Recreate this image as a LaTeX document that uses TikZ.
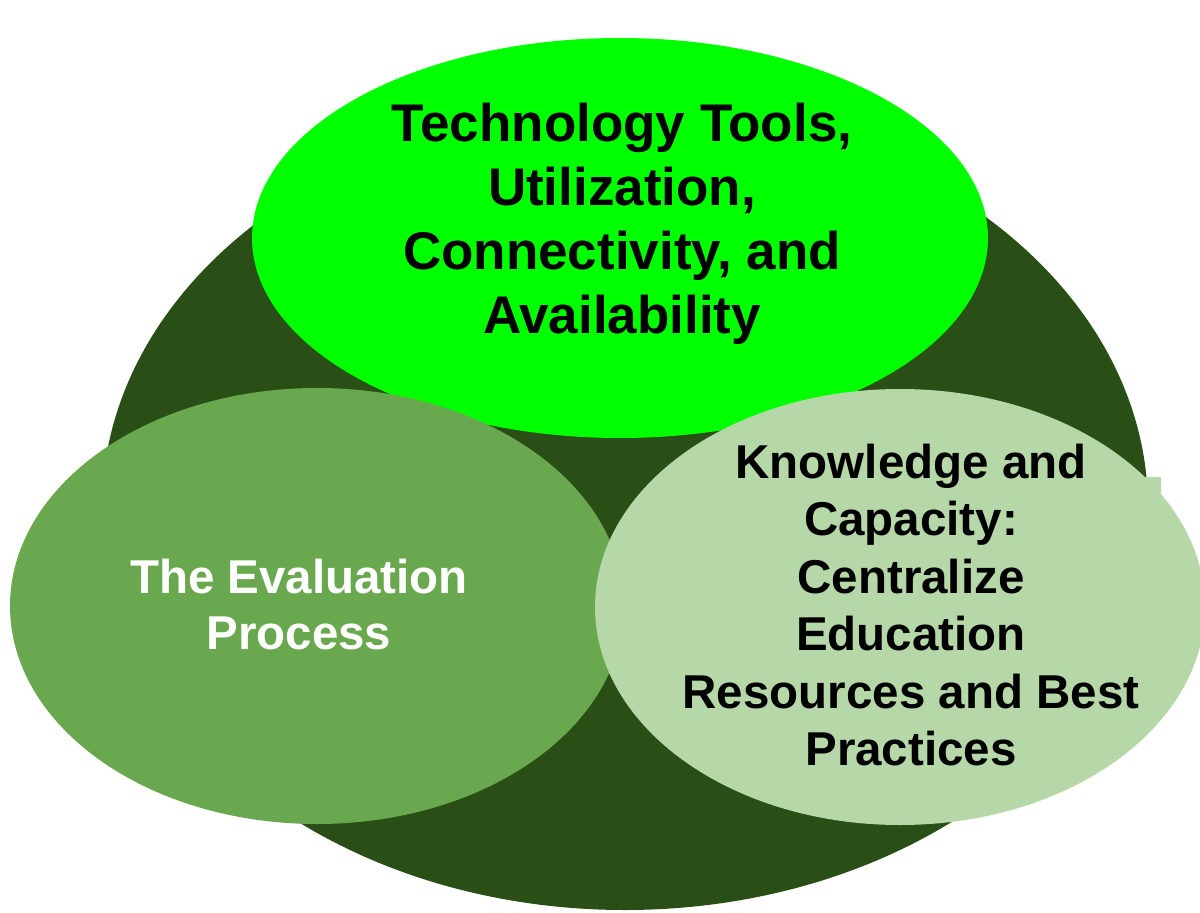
\documentclass[tikz,border=0pt]{standalone}
\usepackage{fontspec}
\setmainfont{Liberation Sans}
\usetikzlibrary{shapes.geometric}
\definecolor{darkg}{HTML}{294E16}
\definecolor{topg}{HTML}{00FF00}
\definecolor{leftg}{HTML}{6AA84F}
\definecolor{rightg}{HTML}{B6D7A8}
\begin{document}
\begin{tikzpicture}[x=1pt,y=-1pt,
  blob/.style={ellipse, inner sep=0pt, draw=none},
  lbl/.style={align=center, inner sep=0pt}]
\useasboundingbox (0,0) rectangle (1200,913);
\node[blob, fill=darkg, minimum width=1046pt, minimum height=804pt] (base) at (625,508) {};
\node[blob, fill=topg, minimum width=736pt, minimum height=400pt] (tech) at (620,238) {};
\node[blob, fill=leftg, minimum width=614pt, minimum height=436pt] (eval) at (317,606) {};
\node[blob, fill=rightg, minimum width=610pt, minimum height=436pt] (know) at (900,607) {};
\fill[rightg] (1140,477) rectangle (1161,495);
\node[lbl, font=\bfseries\fontsize{53}{64}\selectfont] (techtxt) at (622,224)
  {Technology Tools,\\Utilization,\\Connectivity, and\\Availability};
\node[lbl, text=white, font=\bfseries\fontsize{47.5}{56}\selectfont] (evaltxt) at (299,605)
  {The Evaluation\\Process};
\node[lbl, font=\bfseries\fontsize{47.5}{57.4}\selectfont] (knowtxt) at (911,605)
  {Knowledge and\\Capacity:\\Centralize\\Education\\Resources and Best\\Practices};
\end{tikzpicture}
\end{document}
